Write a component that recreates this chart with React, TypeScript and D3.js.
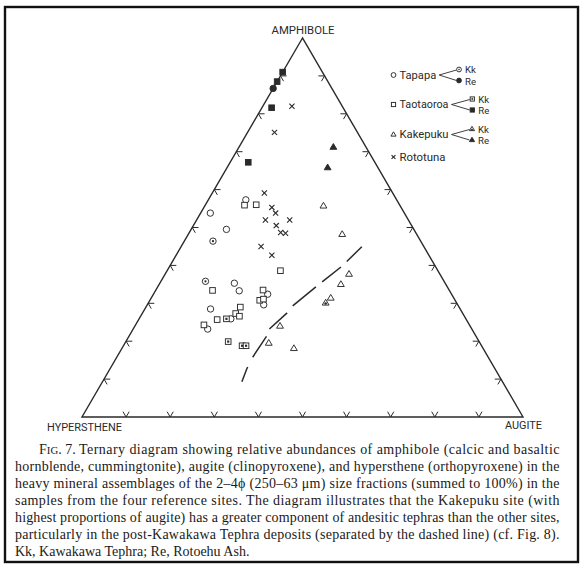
import React from "react";
import * as d3 from "d3";

// Compositions in percent: [amphibole, augite, hypersthene]
const tapapa: number[][] = [
  [57.3, 8.5, 34.2], [53.8, 2.2, 44.0], [49.5, 8.0, 42.5], [35.3, 16.9, 47.8],
  [33.3, 19.0, 47.7], [32.4, 25.9, 41.7], [29.6, 26.4, 44.0], [28.5, 14.9, 56.6],
  [25.9, 20.8, 53.3], [23.2, 16.9, 59.9],
];
const tapapaKk: number[][] = [[46.4, 6.5, 47.1], [35.8, 10.1, 54.1]];
const tapapaRe: number[][] = [[86.7, 0.0, 13.3]];

const taotaoroa: number[][] = [
  [55.9, 8.9, 35.2], [56.0, 11.5, 32.5], [38.6, 25.7, 35.7], [33.4, 12.9, 53.7],
  [33.5, 24.3, 42.2], [30.8, 24.9, 44.3], [31.1, 25.6, 43.3], [29.0, 21.4, 49.6],
  [27.3, 21.2, 51.5], [26.6, 22.4, 51.0], [25.7, 17.8, 56.5], [24.3, 15.5, 60.2],
];
const taotaoroaKk: number[][] = [[25.9, 19.8, 54.3], [19.9, 23.2, 56.9], [18.8, 26.9, 54.3], [18.8, 27.8, 53.4]];
const taotaoroaRe: number[][] = [[91.0, 0.0, 9.0], [88.5, 0.0, 11.5], [81.6, 2.2, 16.2], [67.2, 4.1, 28.7]];

const kakepuku: number[][] = [
  [55.7, 26.9, 17.4], [48.2, 34.9, 16.9], [37.7, 41.7, 20.6], [35.0, 41.2, 23.8],
  [31.4, 40.7, 27.9], [24.0, 32.9, 43.1], [19.5, 32.6, 47.9], [18.1, 39.0, 42.9],
];
const kakepukuKk: number[][] = [[30.1, 40.2, 29.7]];
const kakepukuRe: number[][] = [[71.2, 21.4, 7.4], [65.8, 22.8, 11.4]];

const rototuna: number[][] = [
  [82.0, 6.6, 11.4], [75.1, 6.1, 18.8], [59.1, 11.8, 29.1], [55.3, 15.4, 29.3],
  [53.8, 17.0, 29.2], [52.0, 15.6, 32.4], [52.0, 21.1, 26.9], [50.5, 18.8, 30.7],
  [48.7, 20.7, 30.6], [48.5, 21.9, 29.6], [45.0, 18.1, 36.9], [42.7, 21.7, 35.6],
];

// dashed boundary separating post-Kawakawa deposits
const boundary: number[][] = [
  [44.9, 41.0, 14.1], [39.7, 39.0, 21.3], [34.4, 35.9, 29.7], [29.1, 33.0, 37.9],
  [27.5, 32.8, 39.7], [23.0, 30.8, 46.2], [21.4, 31.2, 47.4], [15.5, 30.8, 53.7],
  [12.8, 31.0, 56.2], [9.3, 31.6, 59.1],
];

const vertexLabels = ["AMPHIBOLE", "HYPERSTHENE", "AUGITE"];
const tickValues = d3.range(10, 100, 10);

const legendRows = ["Tapapa", "Taotaoroa", "Kakepuku", "Rototuna"];
const legendSub = ["Kk", "Re"];

const captionLines = [
  "Ternary diagram showing relative abundances of amphibole (calcic and basaltic",
  "hornblende, cummingtonite), augite (clinopyroxene), and hypersthene (orthopyroxene) in the",
  "heavy mineral assemblages of the 2\u20134\u03d5 (250\u201363 \u03bcm) size fractions (summed to 100%) in the",
  "samples from the four reference sites. The diagram illustrates that the Kakepuku site (with",
  "highest proportions of augite) has a greater component of andesitic tephras than the other sites,",
  "particularly in the post-Kawakawa Tephra deposits (separated by the dashed line) (cf. Fig. 8).",
  "Kk, Kawakawa Tephra; Re, Rotoehu Ash.",
];

const INK = "#2a2a2a";
const LABEL_FONT = "Roboto, 'DejaVu Sans', sans-serif";
const SERIF = "'Liberation Serif', 'Times New Roman', serif";

const xScale = d3.scaleLinear().domain([0, 100]).range([82, 523]);
const yScale = d3.scaleLinear().domain([0, 100]).range([417, 38]);

function proj(p: number[]): [number, number] {
  const s = p[0] + p[1] + p[2];
  const a = (p[0] / s) * 100;
  const u = (p[1] / s) * 100;
  return [xScale(u + a / 2), yScale(a)];
}

type Kind = "circle" | "circleDot" | "circleFill" | "square" | "squareDot" | "squareFill" | "tri" | "triDot" | "triFill" | "x";

function Marker({ kind, x, y, s = 1 }: { kind: Kind; x: number; y: number; s?: number }) {
  const sw = 0.95;
  if (kind.startsWith("circle")) {
    const r = 3.2 * s;
    return (
      <g>
        <circle cx={x} cy={y} r={r} fill={kind === "circleFill" ? INK : "white"} stroke={INK} strokeWidth={sw} />
        {kind === "circleDot" && <circle cx={x} cy={y} r={1.1 * s} fill={INK} />}
      </g>
    );
  }
  if (kind.startsWith("square")) {
    const h = 2.8 * s;
    return (
      <g>
        <rect x={x - h} y={y - h} width={2 * h} height={2 * h} fill={kind === "squareFill" ? INK : "white"} stroke={INK} strokeWidth={sw} />
        {kind === "squareDot" && <rect x={x - 1.1 * s} y={y - 1.1 * s} width={2.2 * s} height={2.2 * s} fill={INK} />}
      </g>
    );
  }
  if (kind.startsWith("tri")) {
    const r = 3.6 * s;
    const pts = [
      [x, y - r],
      [x + r * 0.95, y + r * 0.6],
      [x - r * 0.95, y + r * 0.6],
    ];
    return (
      <g>
        <polygon points={pts.map((p) => p.join(",")).join(" ")} fill={kind === "triFill" ? INK : "white"} stroke={INK} strokeWidth={sw} />
        {kind === "triDot" && <circle cx={x} cy={y + 0.6} r={1.3 * s} fill={INK} />}
      </g>
    );
  }
  const d = 2.6 * s;
  return (
    <g stroke={INK} strokeWidth={1.1}>
      <line x1={x - d} y1={y - d} x2={x + d} y2={y + d} />
      <line x1={x - d} y1={y + d} x2={x + d} y2={y - d} />
    </g>
  );
}

const groups: { data: number[][]; kind: Kind }[] = [
  { data: tapapa, kind: "circle" },
  { data: tapapaKk, kind: "circleDot" },
  { data: tapapaRe, kind: "circleFill" },
  { data: taotaoroa, kind: "square" },
  { data: taotaoroaKk, kind: "squareDot" },
  { data: taotaoroaRe, kind: "squareFill" },
  { data: kakepuku, kind: "tri" },
  { data: kakepukuKk, kind: "triDot" },
  { data: kakepukuRe, kind: "triFill" },
  { data: rototuna, kind: "x" },
];

export default function App() {
  const A = proj([100, 0, 0]);
  const H = proj([0, 0, 100]);
  const U = proj([0, 100, 0]);
  const d = 1.4;

  const tickPaths: string[] = [];
  tickValues.forEach((t) => {
    const b = proj([0, t, 100 - t]);
    const b1 = proj([d, t, 100 - t - d]);
    const b2 = proj([d, t - d, 100 - t]);
    tickPaths.push(`M${b1}L${b}L${b2}`);
    const l = proj([t, 0, 100 - t]);
    const l1 = proj([t, d, 100 - t - d]);
    const l2 = proj([t - d, d, 100 - t]);
    tickPaths.push(`M${l1}L${l}L${l2}`);
    const r = proj([t, 100 - t, 0]);
    const r1 = proj([t, 100 - t - d, d]);
    const r2 = proj([t - d, 100 - t, d]);
    tickPaths.push(`M${r1}L${r}L${r2}`);
  });

  const line = d3.line<number[]>().x((p) => proj(p)[0]).y((p) => proj(p)[1]);

  const legendY = [75, 104.5, 134.5, 157];
  const legendKinds: Kind[][] = [
    ["circleDot", "circleFill"],
    ["squareDot", "squareFill"],
    ["triDot", "triFill"],
  ];
  const legendMain: Kind[] = ["circle", "square", "tri", "x"];
  const legendWidths = [36.7, 49, 49, 46];
  const branchX = [459, 472.3, 472];

  const captionY0 = 453.5;
  const captionDy = 17.1;

  return (
    <svg width={583} height={565} style={{ position: "absolute", left: 0, top: 0, background: "white" }}>
      <rect x={0} y={0} width={583} height={565} fill="white" />
      <rect x={5} y={7} width={573} height={555} fill="none" stroke="#111" strokeWidth={2.4} />

      {/* triangle */}
      <path d={`M${A}L${H}L${U}Z`} fill="none" stroke={INK} strokeWidth={1.4} strokeLinejoin="miter" />
      {tickPaths.map((p, i) => (
        <path key={i} d={p} fill="none" stroke={INK} strokeWidth={1} />
      ))}

      {/* vertex labels */}
      <text x={303} y={34} fontFamily={LABEL_FONT} fontSize={11} fill={INK} textAnchor="middle" textLength={63} lengthAdjust="spacingAndGlyphs">
        {vertexLabels[0]}
      </text>
      <text x={47} y={431} fontFamily={LABEL_FONT} fontSize={11} fill={INK} textLength={75} lengthAdjust="spacingAndGlyphs">
        {vertexLabels[1]}
      </text>
      <text x={505} y={429} fontFamily={LABEL_FONT} fontSize={11} fill={INK} textLength={37} lengthAdjust="spacingAndGlyphs">
        {vertexLabels[2]}
      </text>

      {/* dashed boundary */}
      <path d={line(boundary) || ""} fill="none" stroke={INK} strokeWidth={1.5} strokeDasharray="21 8 24 8 30 9 24 8 25 11 16" />

      {/* data */}
      {groups.map((g, gi) =>
        g.data.map((p, i) => {
          const [x, y] = proj(p);
          return <Marker key={`${gi}-${i}`} kind={g.kind} x={x} y={y} />;
        })
      )}

      {/* legend */}
      {legendRows.map((name, i) => (
        <g key={name}>
          <Marker kind={legendMain[i]} x={393.5} y={legendY[i]} s={0.75} />
          <text x={399.5} y={legendY[i] + 3.6} fontFamily={LABEL_FONT} fontSize={10.5} fill={INK} textLength={legendWidths[i]} lengthAdjust="spacingAndGlyphs">
            {name}
          </text>
          {i < 3 && (
            <g>
              <path
                d={`M${branchX[i] - 2.5},${legendY[i] - 5}L${399.5 + legendWidths[i] + 3},${legendY[i]}L${branchX[i] - 2.5},${legendY[i] + 5.5}`}
                fill="none"
                stroke={INK}
                strokeWidth={0.9}
              />
              {legendSub.map((s, j) => (
                <g key={s}>
                  <Marker kind={legendKinds[i][j]} x={branchX[i]} y={legendY[i] + (j === 0 ? -5.5 : 5.5)} s={0.75} />
                  <text x={branchX[i] + 6} y={legendY[i] + (j === 0 ? -2 : 9.6)} fontFamily={LABEL_FONT} fontSize={9.6} fill={INK}>
                    {s}
                  </text>
                </g>
              ))}
            </g>
          )}
        </g>
      ))}

      {/* caption */}
      <text x={39} y={captionY0} fontFamily={SERIF} fontSize={14} fill="#1a1a1a">
        F<tspan fontSize={10.8}>IG</tspan>. 7.
      </text>
      {captionLines.map((ln, i) => {
        const x0 = i === 0 ? 79 : 15;
        const justified = i < captionLines.length - 1;
        return (
          <text
            key={i}
            x={x0}
            y={captionY0 + i * captionDy}
            fontFamily={SERIF}
            fontSize={14}
            fill="#1a1a1a"
            {...(justified ? { textLength: 559.5 - x0, lengthAdjust: "spacing" } : {})}
          >
            {ln}
          </text>
        );
      })}
    </svg>
  );
}
